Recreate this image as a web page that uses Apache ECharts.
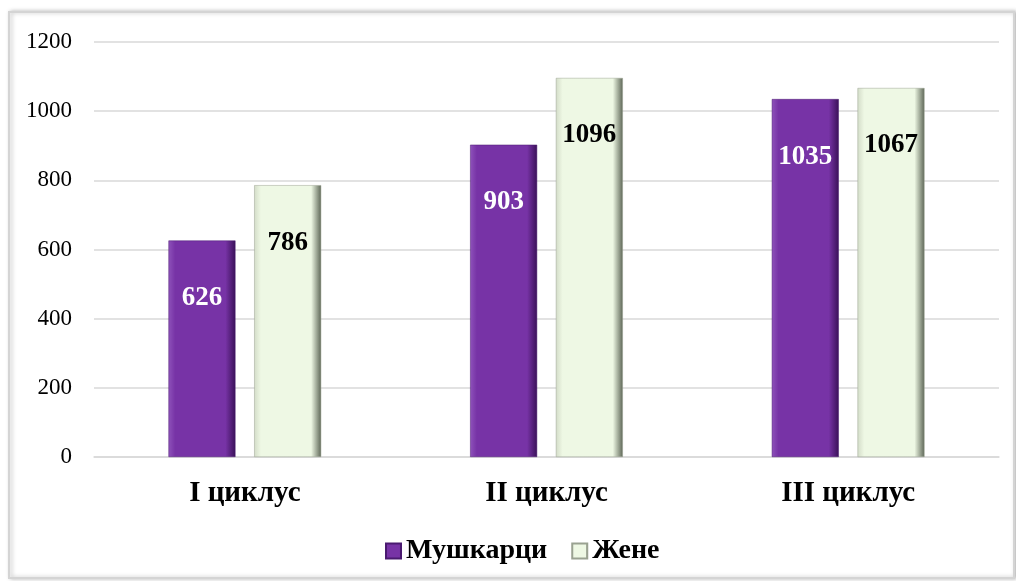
<!DOCTYPE html>
<html><head><meta charset="utf-8">
<script src="https://cdn.jsdelivr.net/npm/echarts@6/dist/echarts.min.js"></script>
<style>html,body{margin:0;padding:0;background:#fff}#c{width:1016px;height:581px}</style>
</head><body><div id="c"></div>
<script>
const categories = ['I циклус', 'II циклус', 'III циклус'];
const seriesNames = ['Мушкарци', 'Жене'];
const men = [626, 903, 1035];
const women = [786, 1096, 1067];

const serif = '"Liberation Serif","Times New Roman",serif';
const chart = echarts.init(document.getElementById('c'));
function grad(edgeL, face, edgeR) {
  return new echarts.graphic.LinearGradient(0, 0, 1, 0, [
    {offset: 0, color: edgeL}, {offset: 0.1, color: face},
    {offset: 0.85, color: face}, {offset: 1, color: edgeR}
  ]);
}
chart.setOption({
  animation: false,
  graphic: [{
    type: 'rect', z: -10, silent: true,
    shape: {x: 9, y: 12, width: 1005, height: 566},
    style: {fill: '#fff', stroke: '#d4d4d4', lineWidth: 2, shadowBlur: 4, shadowOffsetX: 2, shadowColor: 'rgba(0,0,0,0.25)'}
  }],
  grid: {left: 94, right: 17, top: 42, bottom: 124, containLabel: false},
  legend: {
    data: seriesNames, bottom: 11, left: 380, itemWidth: 15, itemHeight: 15, itemGap: 24,
    icon: 'rect',
    textStyle: {fontFamily: serif, fontSize: 28, fontWeight: 'bold', color: '#000', padding: [0, 0, 0, 0]}
  },
  xAxis: {
    type: 'category', data: categories,
    axisLine: {show: true, lineStyle: {color: '#d9d9d9', width: 1.5}},
    axisTick: {show: false},
    axisLabel: {fontFamily: serif, fontSize: 29, fontWeight: 'bold', color: '#000', margin: 22}
  },
  yAxis: {
    type: 'value', min: 0, max: 1200, interval: 200,
    axisLine: {show: false}, axisTick: {show: false},
    axisLabel: {fontFamily: serif, fontSize: 23, color: '#000', margin: 22, formatter: v => String(v)},
    splitLine: {lineStyle: {color: '#d9d9d9', width: 1.5}}
  },
  series: [{
    name: seriesNames[0], type: 'bar', data: men, barWidth: '22.2%', barGap: '28%',
    itemStyle: {color: grad('#8e52ba', '#7733a6', '#3a1158'), borderColor: '#4a1a70', borderWidth: 0.5},
    label: {show: true, position: 'insideTop', distance: 44, fontFamily: serif, fontSize: 27, fontWeight: 'bold', color: '#fff'}
  }, {
    name: seriesNames[1], type: 'bar', data: women, barWidth: '22.2%',
    itemStyle: {color: grad('#d3dcc8', '#eef8e4', '#5d6656'), borderColor: '#9aa291', borderWidth: 0.5},
    label: {show: true, position: 'insideTop', distance: 44, fontFamily: serif, fontSize: 27, fontWeight: 'bold', color: '#000'}
  }]
});
</script></body></html>
